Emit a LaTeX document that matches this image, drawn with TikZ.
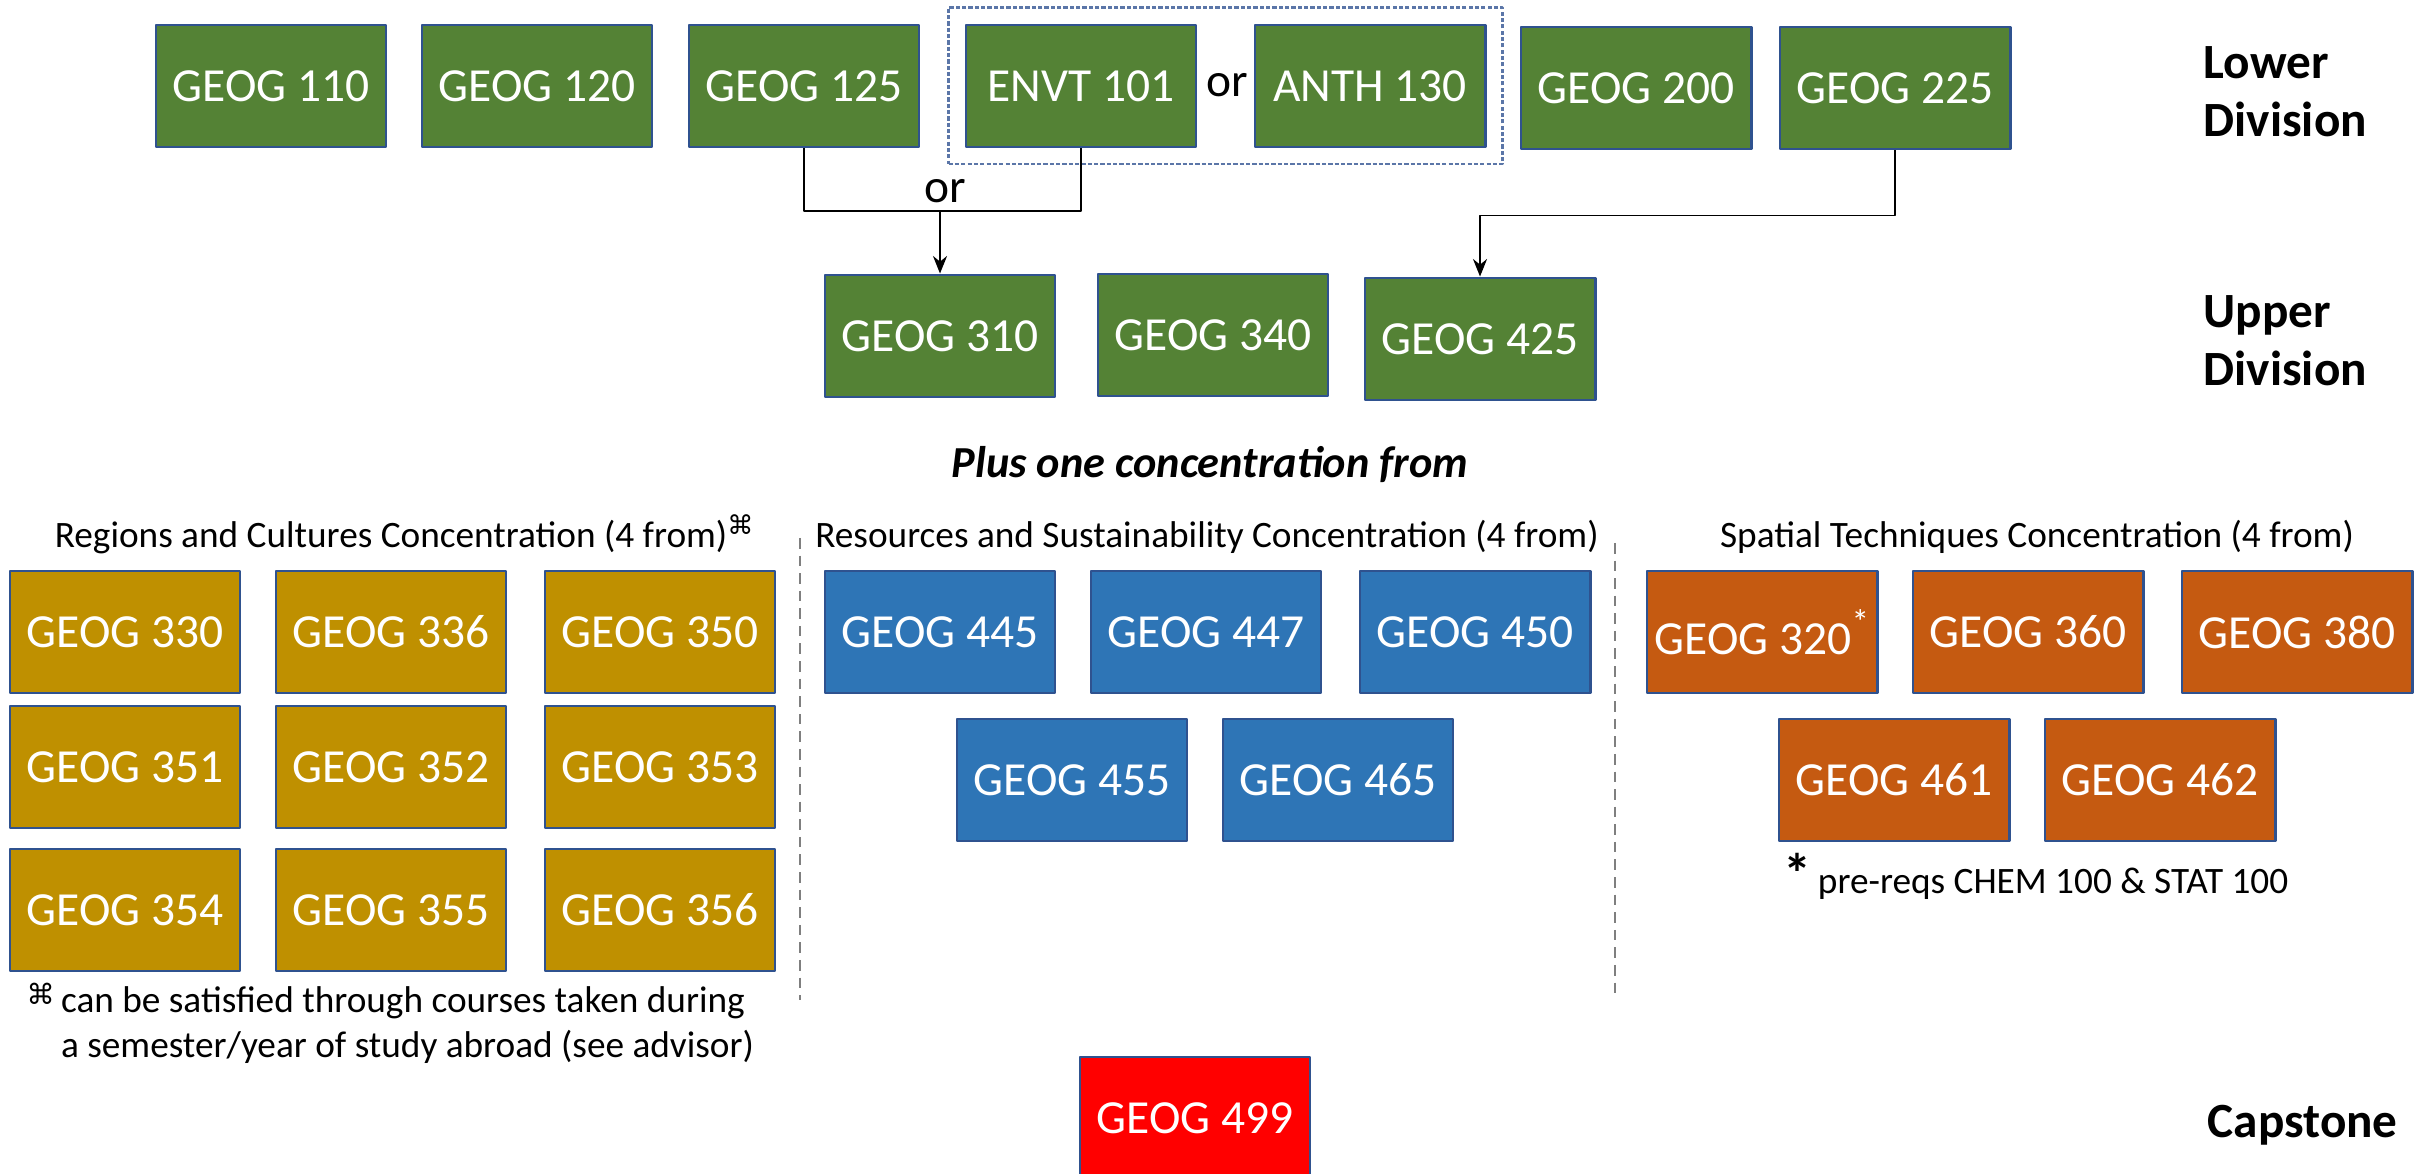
\documentclass[tikz,border=0pt]{standalone}
\usepackage{fontspec}
\setmainfont{Carlito}
\newfontfamily\symfont{DejaVu Sans}
\usetikzlibrary{arrows.meta,fit}
\definecolor{rim}{HTML}{2F528F}
\definecolor{coregreen}{HTML}{548235}
\definecolor{regiongold}{HTML}{BF9000}
\definecolor{resourceblue}{HTML}{2E75B6}
\definecolor{spatialorange}{HTML}{C55A11}
\definecolor{grpblue}{HTML}{5B76A8}
\definecolor{sepgray}{HTML}{7F7F7F}
\begin{document}
\begin{tikzpicture}[x=0.01cm, y=-0.01cm, >={Stealth[length=5pt,width=4pt]}, line join=round,
  course/.style={draw=rim, line width=0.8pt, minimum width=2.3cm, minimum height=1.22cm, inner sep=0pt, text=white, font=\fontsize{13.5}{16}\selectfont},
  core/.style={course, fill=coregreen},
  region/.style={course, fill=regiongold},
  resource/.style={course, fill=resourceblue},
  spatial/.style={course, fill=spatialorange},
  capstonebox/.style={course, fill=red},
  grpbox/.style={draw=grpblue, line width=0.6pt, dash pattern=on 1.2pt off 0.6pt, inner sep=0.16cm},
  wire/.style={draw=black, line width=0.5pt},
  ortext/.style={font=\fontsize{13.5}{16}\selectfont, inner sep=0pt},
  level/.style={font=\bfseries\fontsize{14}{16.5}\selectfont, align=left, inner sep=0pt},
  conc/.style={font=\fontsize{10.6}{12.8}\selectfont, inner sep=0pt},
  sepline/.style={draw=sepgray, line width=0.5pt, dash pattern=on 3pt off 2pt}]
\useasboundingbox (0,0) rectangle (2419,1174);
% lower division
\node[core] (g110) at (271,86) {GEOG 110};
\node[core] (g120) at (537,86) {GEOG 120};
\node[core] (g125) at (804,86) {GEOG 125};
\node[core] (envt) at (1081,86) {ENVT 101};
\node[core] (anth) at (1370,86) {ANTH 130};
\node[core] (g200) at (1636,88) {GEOG 200};
\node[core] (g225) at (1895,88) {GEOG 225};
\node[ortext, anchor=base] (orup) at (1227,97) {or};
\node[grpbox, fit=(envt)(anth)] (choice) {};
\node[level, anchor=north west] (lower) at (2203,46) {Lower\\Division};
% upper division
\node[core] (g310) at (940,336) {GEOG 310};
\node[core] (g340) at (1213,335) {GEOG 340};
\node[core] (g425) at (1480,339) {GEOG 425};
\node[level, anchor=north west] (upper) at (2203,295) {Upper\\Division};
\coordinate (orjoin) at (940,211);
\draw[wire] (g125.south) |- (orjoin) -| (envt.south);
\node[ortext, anchor=base] (orlow) at (945,203) {or};
\draw[wire,->] (orjoin) -- (g310.north);
\draw[wire,->] (g225.south) -- ++(0,65) -| (g425.north);
% concentrations
\node[font=\bfseries\itshape\fontsize{12.6}{15}\selectfont, inner sep=0pt, anchor=base] (plus) at (1210,478) {Plus one concentration from};
\node[conc, anchor=base] (regtitle) at (405,548) {Regions and Cultures Concentration (4 from)\textsuperscript{\symfont ⌘}};
\node[conc, anchor=base] (restitle) at (1207,548) {Resources and Sustainability Concentration (4 from)};
\node[conc, anchor=base] (spatitle) at (2037,548) {Spatial Techniques Concentration (4 from)};
\draw[sepline] (800,538) -- (800,1000);
\draw[sepline] (1615,543) -- (1615,1000);
% regions and cultures
\node[region] (g330) at (125,632) {GEOG 330};
\node[region] (g336) at (391,632) {GEOG 336};
\node[region] (g350) at (660,632) {GEOG 350};
\node[region] (g351) at (125,767) {GEOG 351};
\node[region] (g352) at (391,767) {GEOG 352};
\node[region] (g353) at (660,767) {GEOG 353};
\node[region] (g354) at (125,910) {GEOG 354};
\node[region] (g355) at (391,910) {GEOG 355};
\node[region] (g356) at (660,910) {GEOG 356};
\node[conc, anchor=north west, align=left] (abroad) at (26,982) {\raisebox{0.5ex}{\symfont\footnotesize ⌘}\,can be satisfied through courses taken during\\\hphantom{\raisebox{0.5ex}{\symfont\footnotesize ⌘}}\,a semester/year of study abroad (see advisor)};
% resources and sustainability
\node[resource] (g445) at (940,632) {GEOG 445};
\node[resource] (g447) at (1206,632) {GEOG 447};
\node[resource] (g450) at (1475,632) {GEOG 450};
\node[resource] (g455) at (1072,780) {GEOG 455};
\node[resource] (g465) at (1338,780) {GEOG 465};
% spatial techniques
\node[spatial] (g320) at (1762,632) {GEOG 320\raisebox{0.9ex}{\fontsize{10}{10}\selectfont *}};
\node[spatial] (g360) at (2028,632) {GEOG 360};
\node[spatial] (g380) at (2297,632) {GEOG 380};
\node[spatial] (g461) at (1894,780) {GEOG 461};
\node[spatial] (g462) at (2160,780) {GEOG 462};
\node[conc, anchor=base west] (prereq) at (1783,893) {{\bfseries\fontsize{16}{16}\selectfont *}\,pre-reqs CHEM 100 \& STAT 100};
% capstone
\node[capstonebox] (g499) at (1195,1118) {GEOG 499};
\node[level, anchor=base west] (capstone) at (2207,1137) {Capstone};
\end{tikzpicture}
\end{document}
